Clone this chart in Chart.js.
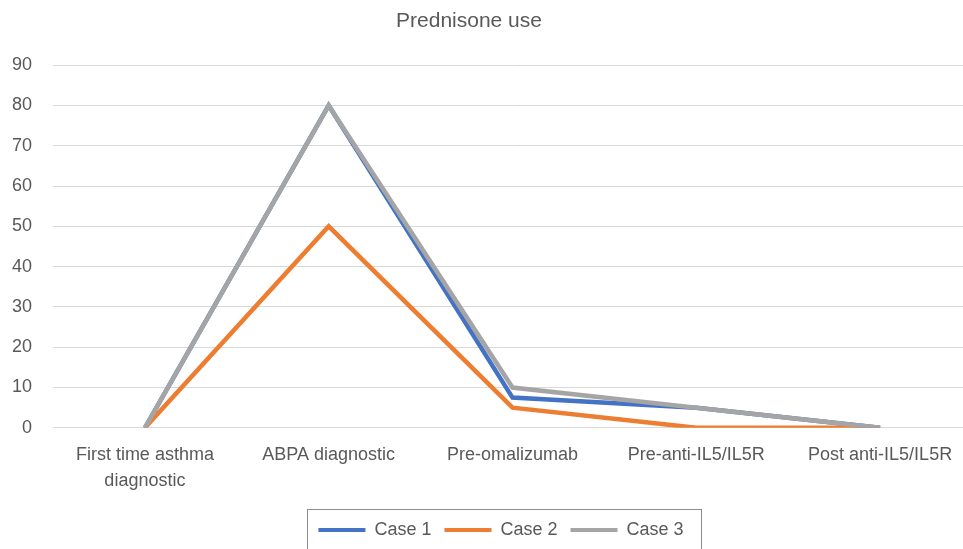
<!DOCTYPE html>
<html>
<head>
<meta charset="utf-8">
<script src="https://cdn.jsdelivr.net/npm/chart.js@4/dist/chart.umd.min.js"></script>
<style>
html,body{margin:0;padding:0;background:#fff;overflow:hidden;}
#wrap{position:absolute;left:0;top:0;width:985px;height:549px;}
</style>
</head>
<body>
<div id="wrap"><canvas id="c"></canvas></div>
<script>
const categories = [["First time asthma","diagnostic"],"ABPA diagnostic","Pre-omalizumab","Pre-anti-IL5/IL5R","Post anti-IL5/IL5R"];
const case1 = [0, 80, 7.5, 5, 0];
const case2 = [0, 50, 5, 0, 0];
const case3 = [0, 80, 10, 5, 0];
const yTicks = [0,10,20,30,40,50,60,70,80,90];

const FONT = "'Liberation Sans', Arial, sans-serif";
const TXT = '#595959';

const boxTweaks = {
  id: 'boxTweaks',
  afterLayout(chart) {
    const t = chart.titleBlock;
    if (t) { t.left -= 17; t.right -= 17; }
    const l = chart.legend;
    if (l) { l.left += 15; l.right += 15; }
  },
  afterDraw(chart) {
    const l = chart.legend;
    const hb = l.legendHitBoxes;
    if (!hb || !hb.length) return;
    const minX = Math.min(...hb.map(h => h.left));
    const maxX = Math.max(...hb.map(h => h.left + h.width));
    const topY = Math.min(...hb.map(h => h.top));
    const ctx = chart.ctx;
    ctx.save();
    ctx.strokeStyle = '#8c8c8c';
    ctx.lineWidth = 1;
    ctx.strokeRect(Math.round(minX - 11) + 0.5, Math.round(topY - 12) + 0.5, Math.round(maxX - minX + 29), 80);
    ctx.restore();
  }
};

function ds(label, data, color, order) {
  return {label, data, borderColor: color, backgroundColor: color, borderWidth: 4.5, order,
    pointRadius: 0, pointHoverRadius: 0, tension: 0, fill: false};
}

new Chart(document.getElementById('c'), {
  type: 'line',
  data: {
    labels: categories,
    datasets: [
      ds('Case 1', case1, '#4472C4', 2),
      ds('Case 2', case2, '#ED7D31', 1),
      ds('Case 3', case3, '#A5A5A5', 0)
    ]
  },
  plugins: [boxTweaks],
  options: {
    responsive: true,
    maintainAspectRatio: false,
    animation: false,
    devicePixelRatio: 1,
    layout: {padding: {left: 0, right: 13, top: 9, bottom: 0}},
    plugins: {
      title: {display: true, text: 'Prednisone use', color: TXT,
        font: {family: FONT, size: 21, weight: 'normal'}, padding: {top: 0, bottom: 31}},
      tooltip: {enabled: false},
      legend: {
        position: 'bottom',
        labels: {
          color: TXT,
          font: {family: FONT, size: 18},
          boxWidth: 47, boxHeight: 4,
          padding: 13,
          sort: (a, b) => a.datasetIndex - b.datasetIndex,
          generateLabels(chart) {
            return chart.data.datasets.map((d, i) => ({
              text: d.label, fillStyle: d.borderColor, strokeStyle: d.borderColor,
              lineWidth: 0, hidden: false, datasetIndex: i, fontColor: TXT
            }));
          }
        }
      }
    },
    scales: {
      x: {
        offset: true,
        grid: {display: false, drawTicks: false},
        border: {display: false},
        ticks: {color: TXT, font: {family: FONT, size: 18, lineHeight: 1.45}, maxRotation: 0, autoSkip: false, padding: 14}
      },
      y: {
        min: 0, max: 90,
        afterBuildTicks(s) { s.ticks = yTicks.map(v => ({value: v})); },
        afterFit(s) { s.width = 53; },
        grid: {color: '#d9d9d9', lineWidth: 1, drawTicks: false},
        border: {display: false},
        ticks: {color: TXT, font: {family: FONT, size: 18}, padding: 21}
      }
    }
  }
});
</script>
</body>
</html>
